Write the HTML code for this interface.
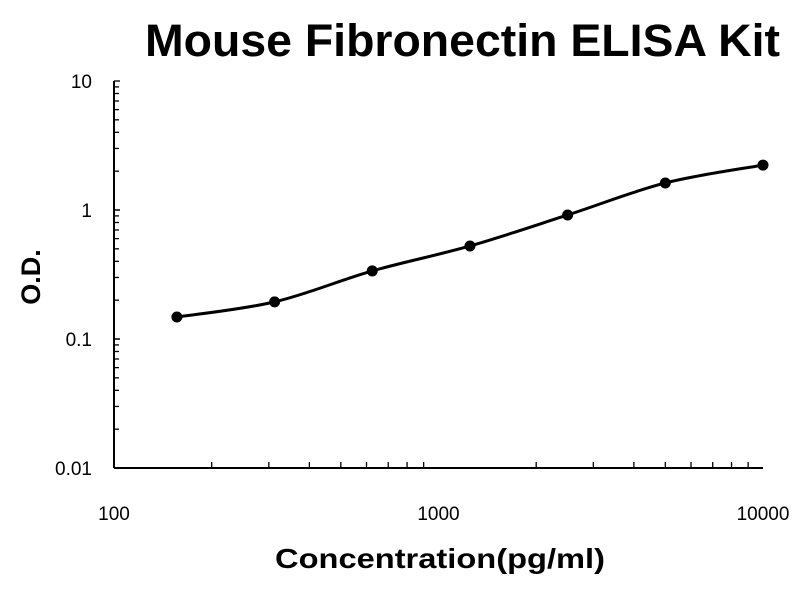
<!DOCTYPE html>
<html><head><meta charset="utf-8"><style>
body{margin:0;background:#fff;width:800px;height:600px;overflow:hidden;font-family:"Liberation Sans",Arial,sans-serif}
</style></head><body>
<svg id="chart" width="800" height="600">
<text x="145" y="56" textLength="635" lengthAdjust="spacingAndGlyphs" font-size="45" font-weight="bold">Mouse Fibronectin ELISA Kit</text>
<text x="275" y="568" textLength="330" lengthAdjust="spacingAndGlyphs" font-size="28" font-weight="bold">Concentration(pg/ml)</text>
<text transform="translate(40,277) rotate(-90)" text-anchor="middle" font-size="27" font-weight="bold">O.D.</text>
<g id="axes"></g><g id="series"></g>
</svg>
<script>
const concentrations=[156.25,312.5,625,1250,2500,5000,10000];
const odValues=[0.148,0.194,0.337,0.526,0.915,1.62,2.23];
const xTickLabels=["100","1000","10000"];
const yTickLabels=["0.01","0.1","1","10"];
const X0=114,X1=763,Y0=468,Y1=81;
function xs(v){return X0+(Math.log10(v)-2)/2*(X1-X0);}
function ys(v){return Y0-(Math.log10(v)+2)/3*(Y0-Y1);}
const NS="http://www.w3.org/2000/svg";
const axes=document.getElementById('axes'),ser=document.getElementById('series');
function mk(tag,attrs,parent){const e=document.createElementNS(NS,tag);for(const k in attrs)e.setAttribute(k,attrs[k]);parent.appendChild(e);return e;}
let a=mk('line',{x1:X0,y1:Y0,x2:X1,y2:Y0,stroke:'#000','stroke-width':2},axes);


a=mk('line',{x1:X0,y1:Y0,x2:X0,y2:Y1,stroke:'#000','stroke-width':2},axes);


for(let d=2;d<4;d++)for(let m=1;m<=10;m++){const v=m*Math.pow(10,d);const x=xs(v);
 const t=mk('line',{x1:x,y1:Y0,x2:x,y2:Y0-(m==1||m==10?0:6),stroke:'#000','stroke-width':1.3},axes);
 
 }
for(let d=-2;d<1;d++)for(let m=1;m<=10;m++){const v=m*Math.pow(10,d);const y=ys(v);
 const t=mk('line',{x1:X0,y1:y,x2:X0+(m==1||m==10?6:5),y2:y,stroke:'#000','stroke-width':1.3},axes);
 
 }
xTickLabels.forEach(s=>{const t=mk('text',{x:xs(+s),y:Y0+52,'text-anchor':'middle','font-size':19},axes);t.textContent=s;
 
 });
yTickLabels.forEach(s=>{const t=mk('text',{x:X0-22,y:ys(+s)+7,'text-anchor':'end','font-size':19},axes);t.textContent=s;
 
 });
const P=concentrations.map((c,i)=>[xs(c),ys(odValues[i])]);
let d='M'+P[0][0]+','+P[0][1];
for(let i=0;i<P.length-1;i++){const p0=P[Math.max(i-1,0)],p1=P[i],p2=P[i+1],p3=P[Math.min(i+2,P.length-1)];
 d+=' C'+(p1[0]+(p2[0]-p0[0])/6)+','+(p1[1]+(p2[1]-p0[1])/6)+' '+(p2[0]-(p3[0]-p1[0])/6)+','+(p2[1]-(p3[1]-p1[1])/6)+' '+p2[0]+','+p2[1];}
const line=mk('path',{d:d,fill:'none',stroke:'#000','stroke-width':3},ser);


P.forEach(p=>{const c=mk('circle',{cx:p[0],cy:p[1],r:5.5,fill:'#000'},ser);
 
 });
</script>
</body></html>
